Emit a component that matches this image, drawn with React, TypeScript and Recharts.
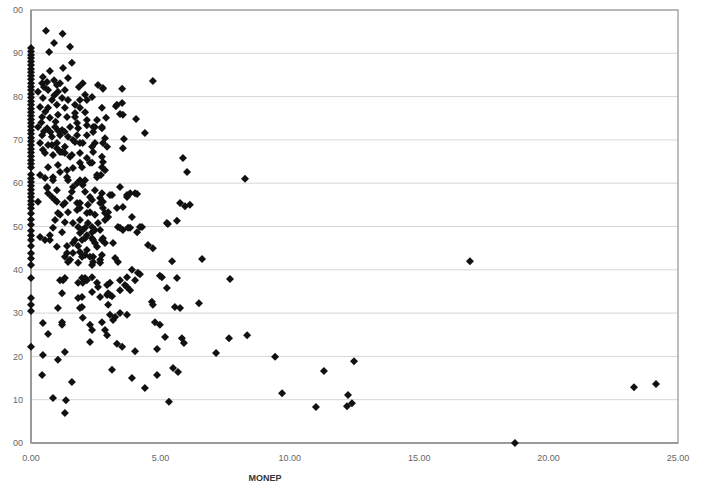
import React from 'react';
import {
  ScatterChart,
  Scatter,
  XAxis,
  YAxis,
  CartesianGrid,
  ReferenceArea
} from 'recharts';

// MONEP values, grouped by where they sit
const xTicks = [0, 5, 10, 15, 20, 25];
const yTicks = [0, 10, 20, 30, 40, 50, 60, 70, 80, 90, 100];

// points stacked on MONEP = 0
const zeroColumn = [
  91.2, 90.4, 89.6, 88.9, 88.1, 87.3, 86.4, 85.6, 84.8, 84.0, 83.1, 82.3, 81.5,
  80.6, 79.8, 78.9, 78.1, 77.2, 76.4, 75.6, 74.7, 73.9, 73.1, 72.2, 71.4, 70.5,
  69.7, 68.8, 67.9, 67.1, 66.2, 65.3, 64.5, 63.6, 62.0, 61.1, 60.3, 59.4, 58.5,
  57.6, 56.8, 55.9, 55.1, 54.2, 53.0, 51.6, 50.4, 49.0, 47.9, 46.9, 45.5, 43.8,
  42.6, 41.1, 38.1, 33.5, 31.9, 30.5, 22.2
];

// the dense cloud, MONEP roughly 0.2 - 3
const upperCloud: [number, number][] = [
  [0.58, 95.2], [1.22, 94.5], [0.89, 92.4], [0.7, 90.3], [1.51, 91.5], [1.58, 87.8],
  [1.24, 86.6], [0.73, 85.9], [2.59, 82.7], [2.78, 82.0], [2.0, 83.1], [1.85, 82.2],
  [1.43, 84.3], [0.89, 83.8], [1.12, 83.1], [0.46, 84.5], [0.62, 83.4], [2.36, 79.9],
  [2.74, 77.4], [2.09, 80.4], [1.89, 79.2], [2.9, 75.1], [2.55, 74.6], [2.4, 73.0],
  [2.16, 74.6], [1.7, 75.3], [2.86, 70.4], [2.94, 68.4], [2.47, 69.3], [2.16, 71.1],
  [2.74, 63.7], [2.55, 61.9], [2.86, 63.0], [2.16, 65.8], [2.28, 64.7], [1.89, 64.7],
  [1.62, 63.5], [1.89, 60.7], [2.0, 59.6], [1.62, 59.1], [1.39, 61.4], [1.12, 62.6],
  [0.85, 61.4], [0.62, 59.1], [0.35, 61.9], [1.31, 67.0], [1.51, 66.1], [1.0, 68.1],
  [1.12, 67.2], [0.81, 68.8], [0.46, 67.7], [1.62, 70.0], [1.89, 69.3], [1.78, 73.9],
  [2.4, 71.8], [2.74, 73.0], [0.43, 83.1], [1.0, 82.7], [0.27, 81.1], [0.66, 81.5],
  [1.04, 81.1], [1.31, 81.5], [0.46, 79.7], [0.81, 79.2], [1.2, 79.7], [1.43, 79.2],
  [0.35, 77.6], [0.66, 77.4], [1.0, 78.1], [1.31, 77.4], [1.7, 78.1], [2.16, 79.2],
  [1.89, 77.4], [2.09, 76.4], [0.43, 75.3], [0.73, 75.1], [1.04, 75.8], [1.39, 75.3],
  [1.7, 76.2], [0.27, 73.0], [0.62, 72.7], [0.93, 73.0], [1.2, 72.3], [1.51, 73.0],
  [1.82, 72.7], [2.16, 73.4], [2.47, 73.0], [2.74, 72.7], [0.43, 71.1], [0.81, 70.7],
  [1.12, 71.1], [1.43, 70.7], [1.78, 71.1], [0.35, 69.3], [0.66, 68.8], [1.0, 69.3],
  [1.31, 68.4], [1.7, 69.5], [2.0, 69.3], [2.36, 68.4], [0.54, 67.0], [0.85, 66.5],
  [1.2, 67.2], [1.58, 66.5], [1.89, 67.0], [2.4, 67.2], [0.66, 63.7], [1.04, 64.2],
  [1.39, 63.0], [1.97, 63.7], [2.36, 64.7], [0.54, 61.2], [0.85, 60.7], [1.43, 60.7],
  [1.78, 60.0], [2.09, 60.7], [2.55, 61.4], [0.62, 58.9], [1.0, 58.4], [1.58, 58.0],
  [2.09, 58.0], [2.47, 58.4], [2.74, 57.7], [2.78, 81.8], [3.28, 77.8], [2.78, 69.3],
  [2.74, 66.1], [2.78, 64.9], [2.7, 61.9], [0.5, 72.0], [0.75, 71.8], [1.05, 72.1],
  [1.3, 71.9], [0.4, 74.0], [0.95, 74.2], [0.55, 76.5], [0.9, 80.3], [0.5, 82.2]
];

const middleCloud: [number, number][] = [
  [0.27, 55.7], [0.93, 56.1], [1.31, 55.4], [1.89, 55.4], [2.36, 56.1], [2.67, 55.4],
  [1.04, 53.1], [1.43, 53.3], [1.78, 53.8], [2.16, 53.1], [2.47, 52.7], [0.93, 51.5],
  [1.31, 51.0], [1.89, 51.5], [2.2, 50.8], [2.59, 50.8], [0.85, 49.7], [1.2, 48.7],
  [2.09, 49.7], [2.36, 48.7], [2.67, 49.2], [0.35, 47.6], [0.73, 46.9], [1.7, 46.9],
  [2.09, 47.3], [2.4, 46.9], [1.0, 45.3], [1.39, 45.5], [1.82, 45.5], [2.16, 44.6],
  [2.55, 45.3], [1.31, 43.0], [1.62, 43.9], [2.09, 43.4], [2.4, 43.0], [2.74, 43.4],
  [1.43, 41.8], [1.82, 41.6], [2.36, 41.1], [2.67, 41.6], [1.12, 37.6], [1.31, 38.1],
  [1.82, 37.0], [2.09, 38.1], [2.36, 38.3], [2.55, 37.0], [1.2, 34.6], [1.97, 33.7],
  [2.36, 34.9], [2.67, 33.7], [0.66, 57.7], [0.81, 56.8], [1.51, 56.6], [2.28, 56.8],
  [2.67, 56.6], [3.05, 57.3], [1.0, 55.7], [1.24, 55.0], [1.78, 55.4], [1.89, 54.3],
  [2.2, 55.0], [2.28, 53.3], [2.78, 54.3], [3.32, 54.3], [3.9, 52.2], [2.86, 53.1],
  [2.98, 52.2], [1.12, 52.7], [0.73, 48.0], [0.54, 46.9], [1.62, 50.8], [1.82, 49.9],
  [2.0, 49.2], [2.16, 48.0], [2.36, 49.9], [2.47, 49.2], [1.89, 48.5], [1.97, 46.9],
  [2.36, 47.3], [2.47, 46.2], [2.74, 46.9], [2.86, 46.2], [1.62, 46.2], [1.39, 43.9],
  [1.51, 42.3], [1.89, 44.1], [1.97, 43.0], [2.28, 43.0], [2.4, 41.8], [2.67, 42.3],
  [1.24, 37.6], [1.97, 38.1], [2.0, 37.0], [2.16, 37.6], [2.59, 36.0], [2.94, 36.5],
  [3.05, 37.0], [2.98, 34.6], [3.13, 33.9], [1.82, 33.5], [1.97, 31.4], [2.98, 31.9],
  [2.78, 47.3], [3.17, 46.2], [2.94, 34.2], [3.05, 34.2], [2.78, 55.7], [2.98, 53.3],
  [2.86, 51.5]
];

// right edge of the cloud, MONEP roughly 3 - 6
const outerCloud: [number, number][] = [
  [4.71, 83.6], [3.52, 81.8], [3.32, 78.1], [3.52, 78.5], [3.44, 76.0], [3.55, 75.8],
  [4.06, 74.8], [4.4, 71.6], [3.59, 70.2], [3.55, 68.1], [3.44, 59.1], [3.71, 57.3],
  [4.02, 57.7], [3.83, 57.7], [4.1, 57.5], [3.13, 57.3], [3.71, 56.8], [3.55, 54.5],
  [3.36, 49.9], [3.55, 49.2], [3.75, 49.7], [4.1, 48.7], [4.21, 49.9], [5.25, 50.8],
  [4.52, 45.7], [4.71, 45.0], [3.25, 42.7], [3.36, 41.8], [3.9, 40.0], [4.13, 39.3],
  [3.44, 37.6], [3.71, 38.3], [4.02, 37.6], [5.06, 38.3], [5.25, 35.8], [3.44, 35.3],
  [3.71, 36.0], [3.05, 29.6], [3.25, 29.1], [3.44, 30.0], [3.71, 29.6], [2.74, 27.9],
  [2.86, 26.1], [2.94, 24.9], [2.28, 27.3], [2.36, 26.1], [2.0, 28.9], [1.89, 31.2],
  [4.67, 32.6], [4.71, 31.9], [4.79, 27.9], [4.98, 27.3], [5.18, 24.5], [1.04, 31.2],
  [1.2, 27.9], [1.2, 27.3], [0.46, 27.7], [0.66, 25.2], [0.46, 20.3], [1.04, 19.2],
  [1.31, 21.0], [2.28, 23.3], [3.32, 22.9], [3.52, 22.2], [4.02, 21.2], [4.87, 21.7],
  [0.43, 15.7], [1.58, 14.1], [3.13, 16.9], [3.9, 15.0], [4.4, 12.7], [4.87, 15.7],
  [0.85, 10.4], [1.35, 9.9], [1.31, 6.9], [5.45, 42.0], [4.21, 39.0], [4.98, 38.6],
  [5.64, 38.1], [3.63, 36.5], [3.83, 35.3], [5.56, 31.4], [5.76, 31.2], [3.17, 28.4],
  [5.83, 24.2], [5.91, 23.1], [5.49, 17.3], [5.68, 16.4], [5.33, 9.5], [3.44, 49.7],
  [3.83, 49.7], [4.29, 49.9]
];

// scattered high-MONEP cases
const farPoints: [number, number][] = [
  [5.87, 65.8], [6.03, 62.6], [8.27, 61.0], [5.76, 55.4], [5.95, 54.7], [6.14, 55.0],
  [5.29, 50.6], [5.64, 51.3], [6.61, 42.5], [7.69, 37.9], [6.49, 32.3], [7.65, 24.2],
  [8.35, 24.9], [7.15, 20.8], [9.43, 19.9], [12.48, 18.9], [11.32, 16.6], [9.7, 11.5],
  [11.01, 8.3], [12.25, 11.1], [12.21, 8.5], [12.4, 9.2], [16.96, 42.0], [18.7, 0],
  [23.3, 12.9], [24.15, 13.6]
];

const points = [
  ...zeroColumn.map((y) => ({ x: 0, y })),
  ...upperCloud.map(([x, y]) => ({ x, y })),
  ...middleCloud.map(([x, y]) => ({ x, y })),
  ...outerCloud.map(([x, y]) => ({ x, y })),
  ...farPoints.map(([x, y]) => ({ x, y }))
];

const font = '"Liberation Sans", Arial, sans-serif';

// small filled diamond like the Excel marker
const Diamond = (props: any) => {
  const { cx, cy } = props;
  if (cx == null || cy == null) return null;
  const r = 4;
  return (
    <polygon
      points={`${cx},${cy - r} ${cx + r},${cy} ${cx},${cy + r} ${cx - r},${cy}`}
      fill="#111"
    />
  );
};

const yLabel = (v: number) => (v === 100 || v === 0 ? '00' : String(v));

export default function App() {
  return (
    <div style={{ position: 'absolute', left: 0, top: 0, width: 710, height: 496, background: '#fff' }}>
      <ScatterChart
        width={710}
        height={496}
        margin={{ top: 10, right: 32, bottom: 0, left: 0 }}
      >
        <CartesianGrid horizontal vertical={false} stroke="#d6d6d6" />
        <XAxis
          type="number"
          dataKey="x"
          domain={[0, 25]}
          ticks={xTicks}
          tickFormatter={(v: number) => v.toFixed(2)}
          tickLine={false}
          tickMargin={6}
          height={53}
          axisLine={{ stroke: '#9a9a9a', strokeWidth: 2 }}
          tick={{ fontSize: 9, fill: '#666', fontFamily: font }}
          label={{
            content: (p: any) => (
              <text
                x={p.viewBox.x + 234}
                y={p.viewBox.y + 38}
                textAnchor="middle"
                fontSize={9}
                fontWeight="bold"
                fontFamily={font}
                fill="#333"
              >
                MONEP
              </text>
            )
          }}
        />
        <YAxis
          type="number"
          dataKey="y"
          domain={[0, 100]}
          ticks={yTicks}
          tickFormatter={yLabel}
          tickLine={false}
          width={31}
          axisLine={{ stroke: '#9a9a9a', strokeWidth: 2 }}
          tick={{ fontSize: 9, fill: '#666', fontFamily: font }}
        />
        <ReferenceArea
          x1={0}
          x2={25}
          y1={0}
          y2={100}
          fill="none"
          stroke="#a8a8a8"
          strokeWidth={1.5}
        />
        <Scatter data={points} shape={<Diamond />} isAnimationActive={false} />
      </ScatterChart>
    </div>
  );
}
